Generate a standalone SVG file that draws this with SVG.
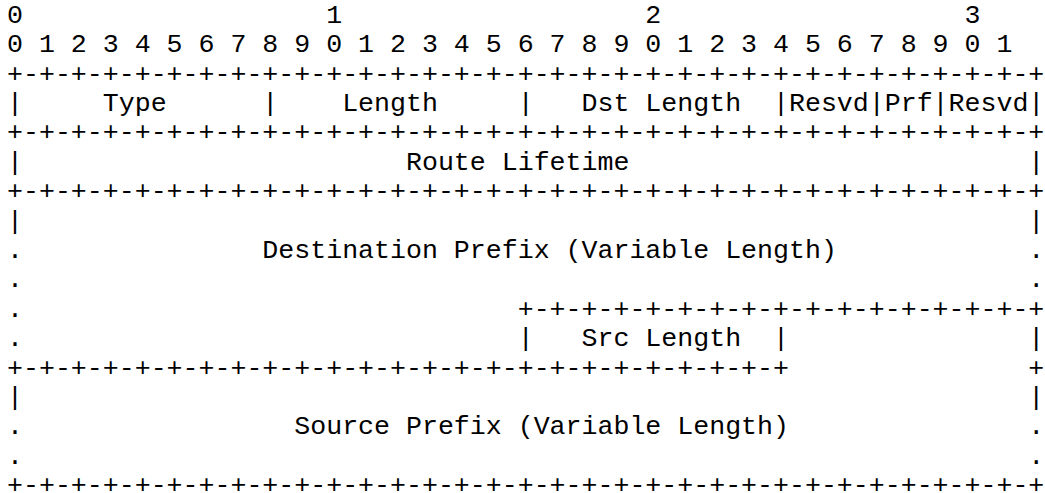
<svg xmlns="http://www.w3.org/2000/svg" width="1045" height="493" viewBox="0 0 1045 493">
  <style>
    text { font-family: "Liberation Mono", "Courier New", monospace; font-size: 26.6px; fill: #000; white-space: pre; }
  </style>
  <rect width="1045" height="493" fill="#fff"/>
  <!-- bit ruler -->
  <g id="bit-ruler">
    <text x="7" y="22.7" xml:space="preserve">0                   1                   2                   3</text>
    <text x="7" y="52.1" xml:space="preserve">0 1 2 3 4 5 6 7 8 9 0 1 2 3 4 5 6 7 8 9 0 1 2 3 4 5 6 7 8 9 0 1</text>
  </g>
  <!-- first word: type, length, dst length, flags -->
  <g id="word-header">
    <text x="7" y="81.5" xml:space="preserve">+-+-+-+-+-+-+-+-+-+-+-+-+-+-+-+-+-+-+-+-+-+-+-+-+-+-+-+-+-+-+-+-+</text>
    <text x="7" y="110.9" xml:space="preserve">|     Type      |    Length     |   Dst Length  |Resvd|Prf|Resvd|</text>
    <text x="7" y="140.3" xml:space="preserve">+-+-+-+-+-+-+-+-+-+-+-+-+-+-+-+-+-+-+-+-+-+-+-+-+-+-+-+-+-+-+-+-+</text>
  </g>
  <!-- route lifetime -->
  <g id="route-lifetime">
    <text x="7" y="169.7" xml:space="preserve">|                        Route Lifetime                         |</text>
    <text x="7" y="199.1" xml:space="preserve">+-+-+-+-+-+-+-+-+-+-+-+-+-+-+-+-+-+-+-+-+-+-+-+-+-+-+-+-+-+-+-+-+</text>
  </g>
  <!-- destination prefix and src length -->
  <g id="destination-prefix">
    <text x="7" y="228.5" xml:space="preserve">|                                                               |</text>
    <text x="7" y="257.9" xml:space="preserve">.               Destination Prefix (Variable Length)            .</text>
    <text x="7" y="287.3" xml:space="preserve">.                                                               .</text>
    <text x="7" y="316.7" xml:space="preserve">.                               +-+-+-+-+-+-+-+-+-+-+-+-+-+-+-+-+</text>
  </g>
  <g id="src-length">
    <text x="7" y="346.1" xml:space="preserve">.                               |   Src Length  |               |</text>
    <text x="7" y="375.5" xml:space="preserve">+-+-+-+-+-+-+-+-+-+-+-+-+-+-+-+-+-+-+-+-+-+-+-+-+               +</text>
  </g>
  <!-- source prefix -->
  <g id="source-prefix">
    <text x="7" y="404.9" xml:space="preserve">|                                                               |</text>
    <text x="7" y="434.3" xml:space="preserve">.                 Source Prefix (Variable Length)               .</text>
    <text x="7" y="463.7" xml:space="preserve">.                                                               .</text>
    <text x="7" y="492.6" xml:space="preserve">+-+-+-+-+-+-+-+-+-+-+-+-+-+-+-+-+-+-+-+-+-+-+-+-+-+-+-+-+-+-+-+-+</text>
  </g>
</svg>
